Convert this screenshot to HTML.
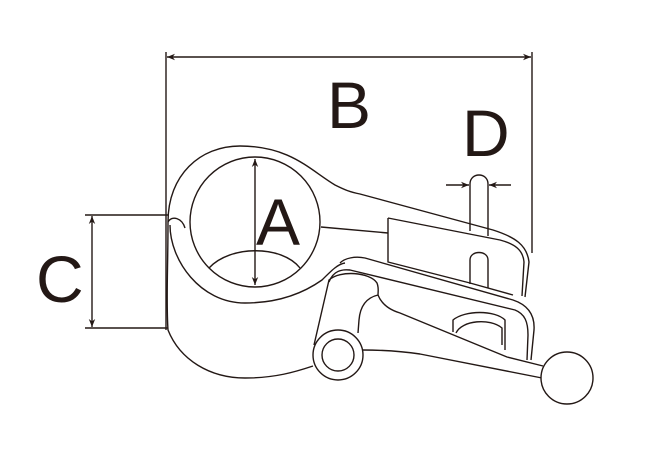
<!DOCTYPE html>
<html><head><style>html,body{margin:0;padding:0;background:#fff;width:653px;height:473px;overflow:hidden}</style></head>
<body>
<svg width="653" height="473" viewBox="0 0 653 473" xmlns="http://www.w3.org/2000/svg">
<defs>
<marker id="ar" viewBox="0 0 10 10" refX="10" refY="5" markerWidth="8" markerHeight="8" orient="auto-start-reverse" markerUnits="userSpaceOnUse"><path d="M0,1 L10,5 L0,9 L3,5 Z" fill="#231815"/></marker>
</defs>
<g fill="none" stroke="#231815" stroke-width="1.4" stroke-linejoin="round">
<!-- dimension B -->
<line x1="166" y1="52" x2="166" y2="330"/>
<line x1="532" y1="52" x2="532" y2="253"/>
<line x1="167" y1="57" x2="531" y2="57" marker-start="url(#ar)" marker-end="url(#ar)"/>
<!-- dimension C -->
<line x1="85" y1="215" x2="168" y2="215"/>
<line x1="85" y1="328" x2="168" y2="328"/>
<line x1="92" y1="216" x2="92" y2="327" marker-start="url(#ar)" marker-end="url(#ar)"/>
<!-- D arrows -->
<line x1="446" y1="185" x2="469" y2="185" marker-end="url(#ar)"/>
<line x1="511" y1="185" x2="489" y2="185" marker-end="url(#ar)"/>
<!-- ring outer -->
<path d="M168,222 C168,175 200,146 240,146 C290,146 310,170 335,185 C345,190 350,192 360,194 L493,230 C515,237 527,245 529,262 L525,297"/>
<path d="M168,222 C168,270 166,300 168,330 C180,360 210,378 245,378 C275,378 295,372 313,366"/>
<path d="M168,222 C172,215 182,218 185,228"/>
<path d="M170,225 C170,260 200,303 245,303 C280,303 305,292 322,280 C332,270 338,264 345,263"/>
<!-- inner circle -->
<circle cx="255" cy="222" r="65"/>
<path d="M209,268 C230,245 282,245 300,268"/>
<line x1="255" y1="159" x2="255" y2="285" marker-start="url(#ar)" marker-end="url(#ar)"/>
<!-- link to rect -->
<line x1="321" y1="227" x2="388" y2="233"/>
<path d="M388,218 L388,262 L470,283"/>
<path d="M388,218 L500,240 C515,244 523,250 524,262 L522,296"/>
<!-- pins -->
<path d="M470,231 L470,184 C470,172 488,172 488,184 L488,236"/>
<path d="M470,284 L470,260 C470,250 488,250 488,260 L488,288"/>
<!-- channel lines -->
<path d="M470,283 L513,295"/>
<path d="M340,263 C345,258 355,256 365,258 L513,300 C528,305 535,315 534,330 L531,360"/>
<path d="M329,282 C333,271 342,269 350,270 L515,310 C525,314 528,322 528,335 L527,360"/>
<!-- lever -->
<path d="M314,345 L329,280 C340,270 370,272 377,283 C379,288 378,292 378,295 C365,298 360,308 359,320 L358,333"/>
<path d="M378,295 C382,305 390,310 400,313 L507,357 L543,366"/>
<path d="M363,350 C380,350 400,351 420,354 L542,378"/>
<circle cx="338" cy="355" r="25" fill="#fff"/>
<circle cx="338" cy="355" r="16"/>
<circle cx="567" cy="378" r="26" fill="#fff"/>
<!-- boss -->
<path d="M453,332 L453,320 C465,310 495,310 505,320 L505,350"/>
<path d="M456,333 C462,320 490,318 502,328 L502,345"/>
</g>
<g font-family="'Liberation Sans', sans-serif" fill="#231815" font-size="66">
<text x="327" y="128">B</text>
<text x="462" y="156">D</text>
<text x="36" y="302">C</text>
<text x="256" y="245">A</text>
</g>
</svg>
</body></html>
